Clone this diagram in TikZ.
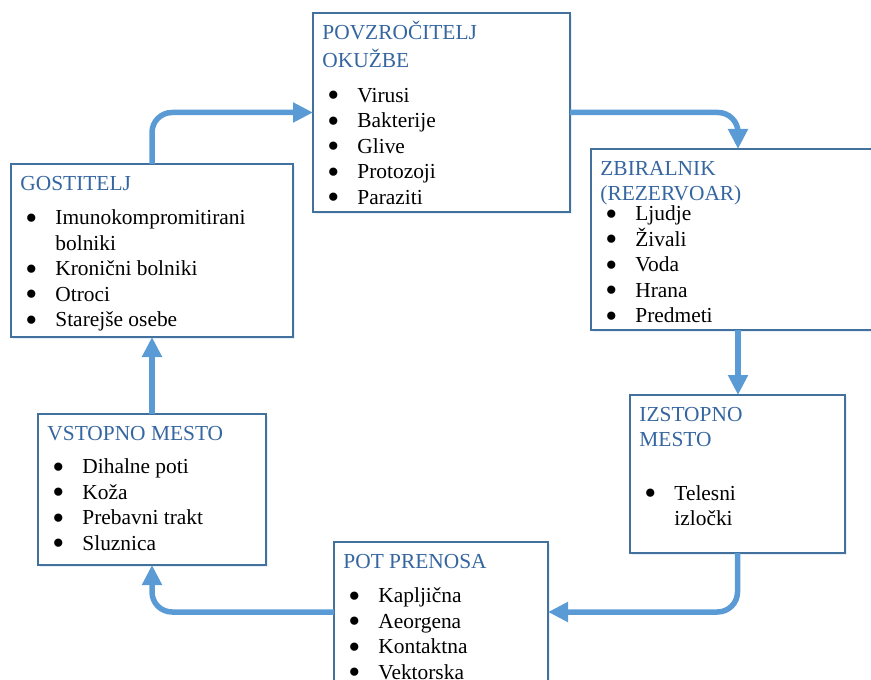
\documentclass[tikz,border=0pt]{standalone}
\usepackage{fontspec}
\usepackage{graphicx}
\setmainfont{Liberation Serif}
\usetikzlibrary{arrows.meta,shadows}
\definecolor{shapeline}{RGB}{65,113,156}
\definecolor{flowblue}{RGB}{91,155,213}
\definecolor{titleblue}{RGB}{54,102,160}
\newcommand{\ttl}[1]{\textcolor{titleblue}{#1}}
\newcommand{\bl}[1]{\makebox[17.5pt][l]{\hspace{2.5pt}\raisebox{-0.21em}{\scalebox{1.6}{\textbullet}}}#1}
\newcommand{\blcont}[1]{\hspace*{17.5pt}#1}

\begin{document}
\begin{tikzpicture}[x=0.5pt,y=-0.5pt,
	box/.style={draw=shapeline,line width=0.75pt,fill=white,inner sep=0pt,outer sep=0pt,anchor=north west,
		drop shadow={shadow xshift=0.8pt,shadow yshift=-0.8pt,opacity=0.15,fill=flowblue}},
	txt/.style={align=left,inner sep=0pt,anchor=north west,font=\fontsize{10.7pt}{12.75pt}\selectfont},
	flow/.style={draw=flowblue,line width=2.75pt,rounded corners=10pt,-{Triangle[length=10pt,width=9.5pt]}}]

	\clip (0,0) rectangle (871,679);

	% boxes
	\node[box,minimum width=128.5pt,minimum height=99.5pt] (povz) at (313,13) {};
	\node[box,minimum width=147pt,minimum height=90.5pt] (zbir) at (591,149) {};
	\node[box,minimum width=107.5pt,minimum height=79pt] (izst) at (630,395) {};
	\node[box,minimum width=107pt,minimum height=70pt] (pot) at (334,542) {};
	\node[box,minimum width=114pt,minimum height=75.5pt] (vst) at (38,414) {};
	\node[box,minimum width=141pt,minimum height=86.5pt] (gost) at (11,164) {};

	% texts
	\node[txt] (povzt) at ([shift={(4.5pt,-4pt)}]povz.north west) {\strut\ttl{POVZROČITELJ}\\\ttl{OKUŽBE}\\[4.5pt]
		\bl{Virusi}\\\bl{Bakterije}\\\bl{Glive}\\\bl{Protozoji}\\\bl{Paraziti}};
	\node[txt] (zbirt) at ([shift={(4.5pt,-4pt)}]zbir.north west) {\strut\ttl{ZBIRALNIK}\\\ttl{(REZERVOAR)}\\[-2.75pt]
		\bl{Ljudje}\\\bl{Živali}\\\bl{Voda}\\\bl{Hrana}\\\bl{Predmeti}};
	\node[txt] (izstt) at ([shift={(4.5pt,-4pt)}]izst.north west) {\strut\ttl{IZSTOPNO}\\\ttl{MESTO}\\[14pt]
		\bl{Telesni}\\\blcont{izločki}};
	\node[txt] (pott) at ([shift={(4.5pt,-4pt)}]pot.north west) {\strut\ttl{POT PRENOSA}\\[4.5pt]
		\bl{Kapljična}\\\bl{Aeorgena}\\\bl{Kontaktna}\\\bl{Vektorska}};
	\node[txt] (vstt) at ([shift={(4.5pt,-4pt)}]vst.north west) {\strut\ttl{VSTOPNO MESTO}\\[4pt]
		\bl{Dihalne poti}\\\bl{Koža}\\\bl{Prebavni trakt}\\\bl{Sluznica}};
	\node[txt] (gostt) at ([shift={(4.5pt,-4pt)}]gost.north west) {\strut\ttl{GOSTITELJ}\\[4.5pt]
		\bl{Imunokompromitirani}\\\blcont{bolniki}\\\bl{Kronični bolniki}\\\bl{Otroci}\\\bl{Starejše osebe}};

	% cycle
	\draw[flow] (gost.north) |- (povz.west);
	\draw[flow] (povz.east) -| (zbir.south |- zbir.north);
	\draw[flow] (zbir.south) -- (zbir.south |- izst.north);
	\draw[flow] (izst.south) |- (pot.east);
	\draw[flow] (pot.west) -| (vst.south);
	\draw[flow] (vst.north) -- (gost.south);
\end{tikzpicture}
\end{document}
